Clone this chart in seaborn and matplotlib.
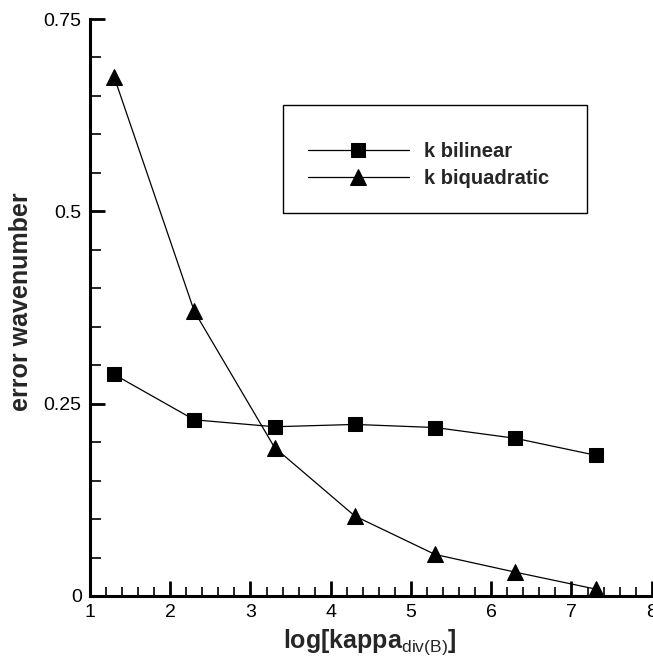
import matplotlib
matplotlib.use("Agg")
import matplotlib.pyplot as plt
import seaborn as sns
import pandas as pd
from matplotlib.ticker import MultipleLocator
from matplotlib.patches import Rectangle

log_kappa = [1.3, 2.3, 3.3, 4.3, 5.3, 6.3, 7.3]
k_bilinear = [0.288, 0.229, 0.220, 0.223, 0.219, 0.205, 0.183]
k_biquadratic = [0.675, 0.370, 0.193, 0.104, 0.054, 0.031, 0.009]
series_names = ["k bilinear", "k biquadratic"]
x_ticks = [1, 2, 3, 4, 5, 6, 7, 8]
y_ticks = [0, 0.25, 0.5, 0.75]
y_tick_labels = ["0", "0.25", "0.5", "0.75"]

sns.set_style("ticks")
plt.rcParams["font.family"] = ["Liberation Sans", "DejaVu Sans"]
plt.rcParams["mathtext.fontset"] = "custom"
plt.rcParams["mathtext.rm"] = "Liberation Sans"

W, H = 653, 659
fig = plt.figure(figsize=(W / 100, H / 100), dpi=100)
ax = fig.add_axes([90 / W, 63 / H, 561.7 / W, 577 / H])

df_a = pd.DataFrame({"x": log_kappa, "y": k_bilinear})
df_b = pd.DataFrame({"x": log_kappa, "y": k_biquadratic})
sns.lineplot(data=df_a, x="x", y="y", ax=ax, color="black", linewidth=0.9,
             marker="s", markersize=9.5, markeredgecolor="black", label=series_names[0])
sns.lineplot(data=df_b, x="x", y="y", ax=ax, color="black", linewidth=0.9,
             marker="^", markersize=11.5, markeredgecolor="black", label=series_names[1])

ax.set_xlim(1, 8)
ax.set_ylim(0, 0.75)
ax.set_xticks(x_ticks)
ax.set_xticklabels([str(t) for t in x_ticks])
ax.set_yticks(y_ticks)
ax.set_yticklabels(y_tick_labels)
ax.xaxis.set_minor_locator(MultipleLocator(0.2))
ax.yaxis.set_minor_locator(MultipleLocator(0.05))

for s in ["top", "right"]:
    ax.spines[s].set_visible(False)
for s in ["left", "bottom"]:
    ax.spines[s].set_linewidth(2.2)
    ax.spines[s].set_color("black")

ax.tick_params(axis="both", which="major", direction="in", length=11, width=2.0,
               labelsize=14, pad=6, colors="black")
ax.tick_params(axis="x", which="minor", direction="in", length=6.5, width=1.2, colors="black")
ax.tick_params(axis="y", which="minor", direction="in", length=8, width=1.2, colors="black")

ax.set_ylabel("error wavenumber", fontsize=18, fontweight="bold")
ax.yaxis.set_label_coords(-0.101, 0.51)
ax.set_xlabel(r"log[kappa$_{\rm div(B)}$]", fontsize=18, fontweight="bold")
ax.xaxis.set_label_coords(0.498, -0.055)

# legend frame
fig.patches.append(Rectangle((283 / W, 1 - 213 / H), 304 / W, 108 / H,
                             transform=fig.transFigure, fill=False,
                             edgecolor="black", linewidth=1.0, zorder=5))
leg = ax.legend(loc="center left", bbox_to_anchor=(308 / W, 1 - 165 / H),
                bbox_transform=fig.transFigure, borderaxespad=0, borderpad=0,
                frameon=False, prop={"weight": "bold", "size": 14.5},
                handlelength=5.0, handletextpad=0.75, labelspacing=0.4)

fig.savefig("out.png", dpi=100, facecolor="white")
